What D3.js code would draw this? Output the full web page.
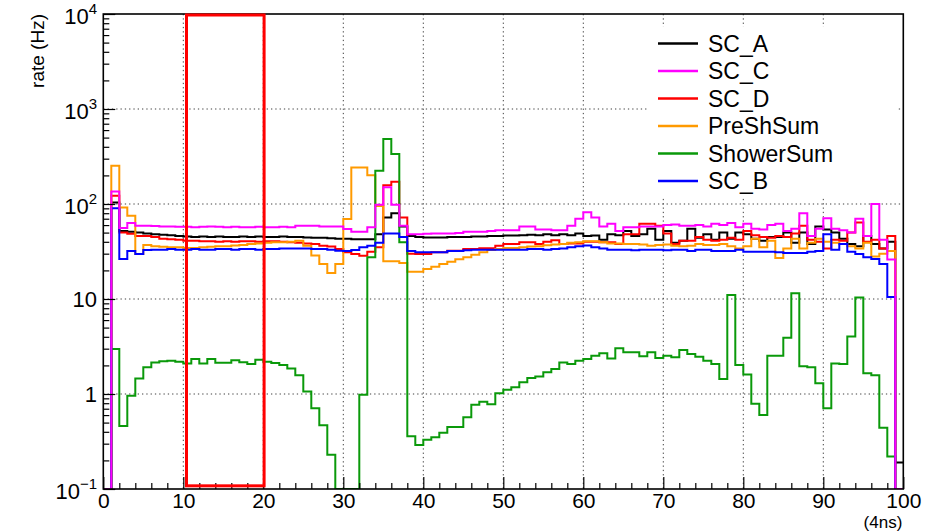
<!DOCTYPE html>
<html>
<head>
<meta charset="utf-8">
<script src="https://cdn.jsdelivr.net/npm/d3@7"></script>
<style>
  html, body { margin: 0; padding: 0; background: #fff; }
  svg { display: block; }
  text { font-family: "Liberation Sans", Arial, Helvetica, sans-serif; fill: #000; }
</style>
</head>
<body>
<svg id="chart" width="935" height="532"></svg>
<script>
// Rate per time bin (bin width = 4 ns), bins 0..99; 0 means empty bin
const scA = [0, 104, 52, 51, 50, 49, 48, 47.5, 47, 46,
  45.5, 45, 45.5, 45, 45.5, 45, 45, 45.5, 45, 45.5,
  45, 45, 45.5, 45, 45, 44.5, 44, 44, 43.5, 43,
  43, 42.5, 42.5, 42.5, 48, 72, 80, 58, 46, 45,
  44.5, 44.5, 44.5, 45, 45, 45, 45.5, 45.5, 46, 46,
  46.5, 46.5, 47, 47.5, 47, 48, 47, 48, 47, 49,
  46, 46.5, 42, 48, 47, 52, 46, 48, 55, 42,
  52, 39, 41, 55, 44, 48, 42, 50, 43, 50,
  48, 43, 41, 45, 45, 50, 39, 50, 38, 58,
  54, 50, 43, 38, 36, 46, 38, 34, 40, 0.19];

const scC = [0, 135, 56, 63, 59, 59, 58.5, 58, 58, 57.5,
  57.5, 57, 57.5, 58, 57.5, 57, 57.5, 57, 57, 57.5,
  57, 57, 57.5, 57, 59, 59, 59, 58, 58, 58,
  54.6, 51, 51, 57, 98, 150, 98, 59, 48, 48,
  48.5, 49, 49, 49, 49.5, 51, 51, 51, 52, 53,
  53, 53, 58, 58, 54, 54, 53, 53, 59, 70,
  82, 72, 58, 62, 52, 57, 57, 58, 58, 58,
  60, 61, 59, 59, 60, 58, 62, 60, 63, 57,
  62, 55, 54, 60, 62, 52, 55, 80, 46, 55,
  71, 55, 53, 50, 70, 46, 100, 42, 26, 0];

const scD = [0, 122, 50, 48.5, 46, 46, 45, 43, 42.5, 42,
  41, 41, 40.5, 40.5, 40, 40.5, 40, 40.5, 40.5, 40,
  40.5, 40.5, 40, 39.5, 39, 38.5, 38, 36.4, 35.7, 33.6,
  31, 29.8, 28.6, 31.5, 35, 158, 172, 72, 30, 29.8,
  29.8, 31, 31, 32.3, 32.3, 33.6, 33.6, 34.3, 34.3, 36.4,
  37.9, 37.9, 39.5, 39.5, 38, 40, 41.6, 38, 38.5, 38.5,
  40, 40, 39.5, 39.5, 38, 48, 48, 62, 62, 59,
  49, 38, 41, 41, 45, 42, 41, 42, 44, 42,
  52, 47, 45, 44, 46, 45, 49, 59, 42, 40,
  34, 42, 41, 50, 64, 40, 42, 34, 46, 0];

const preShSum = [0, 253, 92, 75, 29.8, 37, 36, 35.5, 35, 35,
  34.5, 34.5, 35, 35.5, 36, 36, 36.5, 37, 38, 38.5,
  39, 39.5, 39.5, 40, 41, 36.4, 28.7, 23.4, 18.8, 23.4,
  69.6, 242, 242, 201, 95, 25, 25, 24, 19.4, 19.4,
  20.7, 21.9, 23.4, 24.7, 26.2, 27.5, 29.3, 31, 32.8, 33.6,
  34.5, 34.5, 35, 35.7, 36, 36.7, 37.4, 37.9, 39, 39.5,
  40.5, 40.5, 39.5, 38.5, 38.5, 37.9, 37.9, 37.4, 36.4, 37,
  37.4, 36.4, 36, 36.4, 38, 37, 37, 38, 36, 34,
  36, 43, 35, 41, 27, 34, 43, 34, 39, 43,
  40, 39, 38, 36, 34, 39, 28, 30, 32, 0];

const showerSum = [0, 2.98, 0.46, 0.96, 1.46, 1.91, 2.15, 2.21, 2.24, 2.19,
  2.10, 2.33, 2.10, 2.33, 2.13, 2.13, 2.26, 2.16, 2.07, 2.30,
  2.19, 2.12, 2.02, 1.86, 1.58, 1.06, 0.71, 0.47, 0.23, 0,
  0, 0, 0.98, 27.5, 224, 483, 336, 39.5, 0.36, 0.29,
  0.33, 0.35, 0.39, 0.45, 0.45, 0.57, 0.77, 0.83, 0.78, 1.02,
  1.11, 1.18, 1.33, 1.47, 1.53, 1.69, 1.83, 2.15, 2.07, 2.24,
  2.33, 2.53, 2.68, 2.37, 3.03, 2.75, 2.75, 2.49, 2.75, 2.39,
  2.53, 2.43, 2.90, 2.64, 2.47, 2.24, 2.07, 1.44, 11.0, 2.02,
  1.60, 0.79, 0.60, 2.53, 2.53, 3.92, 11.5, 1.96, 1.91, 1.30,
  0.71, 2.10, 2.07, 4.04, 10.4, 1.65, 1.58, 0.44, 0.22, 0];

const scB = [0, 90, 26.4, 32, 29.8, 32.8, 33, 33, 33.5, 33,
  33, 33.5, 33, 33, 33.5, 33.5, 33, 33.5, 33.5, 33,
  33.5, 33.5, 34, 34, 34, 34, 33.5, 33.5, 33, 32.3,
  32, 32.8, 35, 36.4, 39, 49, 49, 45, 32, 31,
  31, 31, 31, 32, 32, 32.5, 33, 33, 33, 33,
  33, 33, 33, 33.5, 33.5, 33, 33.5, 34, 35, 36,
  36.5, 35, 34, 33, 33, 33, 32.5, 33, 33, 33,
  32.5, 33, 33, 32, 33, 33, 32, 32, 32, 33,
  31.5, 31.5, 31.5, 31.5, 31, 30.5, 30.5, 30.5, 31.5, 32,
  48, 33, 38, 31.5, 29.8, 27.5, 26.4, 23.4, 10.5, 0];

const seriesNames = ["SC_A", "SC_C", "SC_D", "PreShSum", "ShowerSum", "SC_B"];
const seriesColors = ["#000000", "#ff00ff", "#ff0000", "#ff9a00", "#0a990a", "#0000ff"];
const seriesValues = [scA, scC, scD, preShSum, showerSum, scB];
const drawOrder = ["SC_A", "SC_D", "PreShSum", "ShowerSum", "SC_B", "SC_C"];

const xTickValues = d3.range(0, 101, 10);
const yDecades = [0.1, 1, 10, 100, 1000, 10000];
const yTickBase = ["10", "1", "10", "10", "10", "10"];
const yTickExp = ["\u22121", "", "", "2", "3", "4"];
const windowRange = [10.4, 20.1];   // highlighted time window (bins)
const yLabel = "rate (Hz)";
const xUnit = "(4ns)";

(function draw() {
  const svg = d3.select("#chart");
  const W = 935, H = 532;
  const pL = 103.3, pR = 903.3, pT = 14, pB = 489;

  const x = d3.scaleLinear().domain([0, 100]).range([pL, pR]);
  const y = d3.scaleLog().domain([0.1, 1e4]).range([pB, pT]);

  svg.append("rect").attr("width", W).attr("height", H).attr("fill", "#fff");

  // dotted grid
  const grid = svg.append("g").attr("stroke", "#000").attr("stroke-width", 1)
    .attr("stroke-dasharray", "1.3,3").attr("opacity", 0.75);
  grid.selectAll("line.gx").data(xTickValues.filter(v => v > 0 && v < 100)).join("line")
    .attr("class", "gx")
    .attr("x1", d => x(d)).attr("x2", d => x(d)).attr("y1", pT).attr("y2", pB);
  grid.selectAll("line.gy").data(yDecades.filter(v => v > 0.1 && v < 1e4)).join("line")
    .attr("class", "gy")
    .attr("y1", d => y(d)).attr("y2", d => y(d)).attr("x1", pL).attr("x2", pR);

  // histograms
  svg.append("clipPath").attr("id", "plotclip").append("rect")
    .attr("x", pL).attr("y", pT).attr("width", pR - pL).attr("height", pB - pT);

  const floorV = 0.1;
  const stepLine = d3.line()
    .x(d => x(d[0]))
    .y(d => y(Math.max(d[1], floorV)))
    .curve(d3.curveStepAfter);

  const plot = svg.append("g").attr("clip-path", "url(#plotclip)");
  drawOrder.forEach(name => {
    const k = seriesNames.indexOf(name);
    const vals = seriesValues[k];
    const pts = vals.map((v, i) => [i, v]);
    pts.push([vals.length, vals[vals.length - 1]]);
    plot.append("path")
      .attr("d", stepLine(pts))
      .attr("fill", "none")
      .attr("stroke", seriesColors[k])
      .attr("stroke-width", 2)
      .attr("stroke-linejoin", "miter");
  });

  // legend
  const leg = svg.append("g");
  leg.append("rect").attr("x", 648).attr("y", 27).attr("width", 250).attr("height", 169).attr("fill", "#fff");
  seriesNames.forEach((name, i) => {
    const cy = 43.5 + i * 27.5;
    leg.append("line").attr("x1", 658).attr("x2", 698).attr("y1", cy).attr("y2", cy)
      .attr("stroke", seriesColors[i]).attr("stroke-width", 2.5);
    leg.append("text").attr("x", 708).attr("y", cy + 8).attr("font-size", 23).text(name);
  });

  // frame
  svg.append("rect").attr("x", pL).attr("y", pT).attr("width", pR - pL).attr("height", pB - pT)
    .attr("fill", "none").attr("stroke", "#000").attr("stroke-width", 1.6);

  // x axis: major + minor ticks, drawn inside the frame
  const xMinor = d3.range(0, 101, 2).filter(v => v % 10 !== 0);
  const xAxisMajor = d3.axisBottom(x).tickValues(xTickValues).tickSizeInner(-12).tickSizeOuter(0).tickPadding(4).tickFormat(d3.format("d"));
  const xAxisMinor = d3.axisBottom(x).tickValues(xMinor).tickSizeInner(-6).tickSizeOuter(0).tickFormat("");
  const gxMin = svg.append("g").attr("transform", `translate(0,${pB})`).call(xAxisMinor);
  const gxMaj = svg.append("g").attr("transform", `translate(0,${pB})`).call(xAxisMajor);
  [gxMin, gxMaj].forEach(g => {
    g.select(".domain").remove();
    g.selectAll(".tick line").attr("stroke", "#000").attr("stroke-width", 1.2);
  });
  gxMaj.selectAll(".tick text").attr("font-size", 21).attr("font-family", "Liberation Sans, Arial, sans-serif").attr("fill", "#000");

  // y axis: log ticks inside the frame
  const yMinor = [];
  yDecades.slice(0, -1).forEach(d => { for (let m = 2; m <= 9; m++) yMinor.push(d * m); });
  const yAxisMajor = d3.axisLeft(y).tickValues(yDecades).tickSizeInner(-12).tickSizeOuter(0).tickFormat("");
  const yAxisMinor = d3.axisLeft(y).tickValues(yMinor).tickSizeInner(-6).tickSizeOuter(0).tickFormat("");
  const gyMin = svg.append("g").attr("transform", `translate(${pL},0)`).call(yAxisMinor);
  const gyMaj = svg.append("g").attr("transform", `translate(${pL},0)`).call(yAxisMajor);
  [gyMin, gyMaj].forEach(g => {
    g.select(".domain").remove();
    g.selectAll(".tick line").attr("stroke", "#000").attr("stroke-width", 1.2);
  });

  // y tick labels with exponents
  yDecades.forEach((d, i) => {
    const hasExp = yTickExp[i] !== "";
    const t = svg.append("text")
      .attr("x", 97)
      .attr("y", y(d) + (hasExp ? 10 : 8))
      .attr("text-anchor", "end")
      .attr("font-size", 22);
    t.append("tspan").text(yTickBase[i]);
    if (hasExp) {
      t.append("tspan").attr("dy", -10).attr("font-size", 15).text(yTickExp[i]);
    }
  });

  // axis titles
  svg.append("text")
    .attr("transform", `translate(44,${pT}) rotate(-90)`)
    .attr("text-anchor", "end")
    .attr("font-size", 19)
    .text(yLabel);
  svg.append("text")
    .attr("x", pR - 1)
    .attr("y", 528.2)
    .attr("text-anchor", "end")
    .attr("font-size", 17)
    .text(xUnit);

  // highlighted window
  svg.append("rect")
    .attr("x", x(windowRange[0])).attr("y", y(1e4) + 1)
    .attr("width", x(windowRange[1]) - x(windowRange[0]))
    .attr("height", y(0.108) - y(1e4) - 1)
    .attr("fill", "none").attr("stroke", "#ff0000").attr("stroke-width", 3);
})();
</script>
</body>
</html>
